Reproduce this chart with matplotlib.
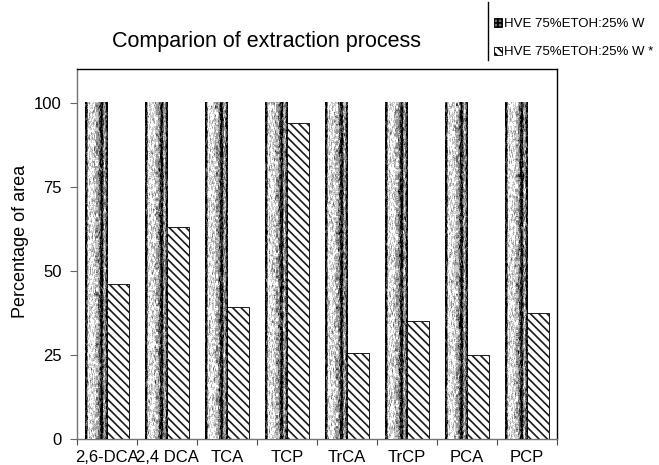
import numpy as np
import matplotlib
matplotlib.use("Agg")
import matplotlib.pyplot as plt
from matplotlib.patches import Patch
from matplotlib.lines import Line2D

plt.rcParams['font.family'] = ['Liberation Sans', 'DejaVu Sans']
plt.rcParams['hatch.linewidth'] = 1.2

compounds = ["2,6-DCA", "2,4 DCA", "TCA", "TCP", "TrCA", "TrCP", "PCA", "PCP"]
series_labels = ["HVE 75%ETOH:25% W", "HVE 75%ETOH:25% W *"]
ref_values = [100, 100, 100, 100, 100, 100, 100, 100]
alt_values = [46, 63, 39.3, 94, 25.5, 35, 25, 37.5]
y_ticks = [0, 25, 50, 75, 100]

W, H = 659, 465
DPI = 100
fig = plt.figure(figsize=(W / DPI, H / DPI), dpi=DPI)
ax = fig.add_axes([77 / W, 1 - 439 / H, (557 - 77) / W, (439 - 69) / H])

x = np.arange(len(compounds))
bw = 0.367
off = 0.183

bars_ref = ax.bar(x - off, ref_values, bw, color='0.5', edgecolor='0.3',
                  linewidth=0.6, zorder=2)
bars_alt = ax.bar(x + off, alt_values, bw, color='white', edgecolor='0.1',
                  hatch='\\\\\\\\', linewidth=0.7, zorder=2)

# grainy striped fill for the first series
profile = np.array([0.0, 0.08, 0.5, 0.97, 0.88, 0.94, 0.9, 0.88, 0.9, 0.84,
                    0.78, 0.7, 0.6, 0.45, 0.18, 0.03, 0.1, 0.5, 0.7, 0.5,
                    0.15, 0.0])
rng = np.random.default_rng(7)
for i, b in enumerate(bars_ref):
    x0, y0 = b.get_x(), b.get_y()
    bwid, bh = b.get_width(), b.get_height()
    rows = 336
    noise = rng.normal(0, 0.18, (rows + 2, profile.size))
    noise = (noise[:-2] + noise[1:-1] + noise[2:]) / 2.0  # short vertical streaks
    tex = np.clip(np.tile(profile, (rows, 1)) + noise, 0, 1)
    tex = np.round(tex * 5) / 5
    ax.imshow(tex, cmap='gray', vmin=0, vmax=1, interpolation='nearest',
              extent=[x0, x0 + bwid, y0, y0 + bh], aspect='auto', zorder=3)

ax.set_xlim(-0.5, len(compounds) - 0.5)
ax.set_ylim(0, 110)
ax.set_yticks(y_ticks)
ax.set_yticklabels([str(t) for t in y_ticks])

ax.set_xticks(x)
ax.set_xticklabels(compounds)
ax.set_xticks(np.arange(len(compounds) + 1) - 0.5, minor=True)
ax.tick_params(axis='x', which='major', length=0, pad=8, labelsize=12)
ax.tick_params(axis='x', which='minor', length=4, width=0.8, color='0.3')
ax.tick_params(axis='y', length=5, width=0.8, color='0.4', pad=6,
               labelsize=12)

for side in ('left', 'bottom'):
    ax.spines[side].set_color('0.45')
    ax.spines[side].set_linewidth(1.0)
for side in ('top', 'right'):
    ax.spines[side].set_color('black')
    ax.spines[side].set_linewidth(1.0)

fig.text(267 / W, 1 - 42 / H, "Comparion of extraction process",
         ha='center', va='center', fontsize=15.5)
fig.text(21 / W, 1 - 241 / H, "Percentage of area", rotation=90,
         ha='center', va='center', fontsize=13)

handles = [Patch(facecolor='0.45', edgecolor='black', hatch='++++',
                 linewidth=0.6),
           Patch(facecolor='white', edgecolor='black', hatch='\\\\\\\\',
                 linewidth=0.6)]
fig.legend(handles, series_labels, loc='upper left',
           bbox_to_anchor=(494 / W, 1 - 18 / H), frameon=False,
           fontsize=9.5, handlelength=0.6, handleheight=0.6,
           handletextpad=0.15, labelspacing=1.25, borderpad=0,
           borderaxespad=0)
fig.add_artist(Line2D([488 / W, 488 / W], [1 - 2 / H, 1 - 60 / H],
                      transform=fig.transFigure, color='black', lw=1.0))

fig.savefig("out.png", dpi=DPI)
